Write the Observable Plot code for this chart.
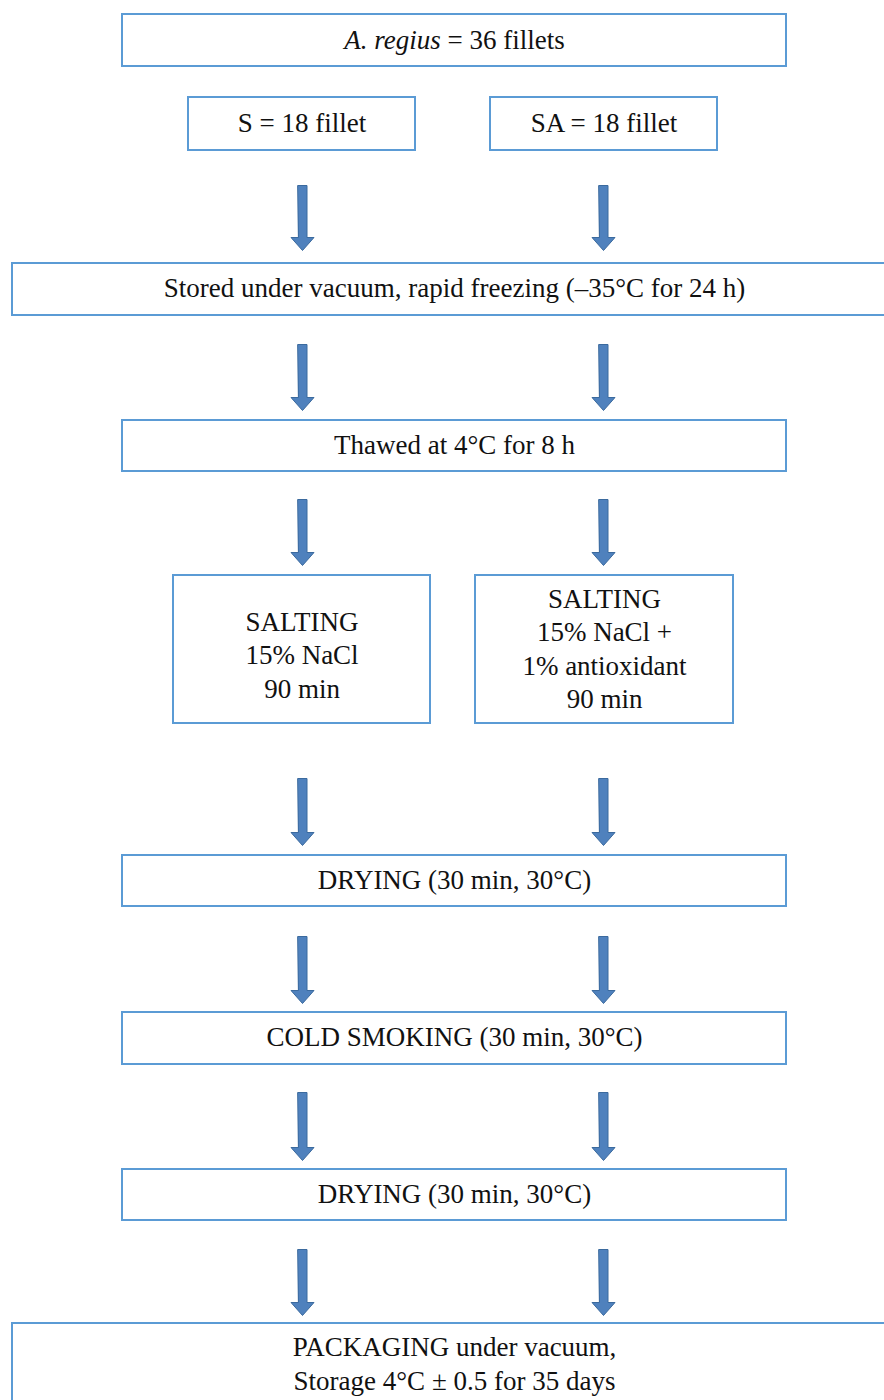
<!DOCTYPE html>
<html>
<head>
<meta charset="utf-8">
<script src="https://cdn.jsdelivr.net/npm/d3@7"></script>
<script src="https://cdn.jsdelivr.net/npm/@observablehq/plot@0.6"></script>
<style>
  html, body { margin: 0; padding: 0; background: #fff; }
  #chart svg { display: block; }
  #chart svg text { font-family: "Liberation Serif", "Times New Roman", serif !important; }
</style>
</head>
<body>
<div id="chart"></div>
<script>
// ---- data: flowchart steps (content only) ----
const stepLabels = [
  "A. regius = 36 fillets",
  "S = 18 fillet",
  "SA = 18 fillet",
  "Stored under vacuum, rapid freezing (\u201335\u00B0C for 24 h)",
  "Thawed at 4\u00B0C for 8 h",
  "SALTING\n15% NaCl\n90 min",
  "SALTING\n15% NaCl +\n1% antioxidant\n90 min",
  "DRYING (30 min, 30\u00B0C)",
  "COLD SMOKING (30 min, 30\u00B0C)",
  "DRYING (30 min, 30\u00B0C)",
  "PACKAGING under vacuum,\nStorage 4\u00B0C \u00B1 0.5 for 35 days"
];
// row index of each step (0-based stage in the flow)
const stepRows = [0, 1, 1, 2, 3, 4, 4, 5, 6, 7, 8];
// which lane each step occupies: "mid", "wide", "left", "right"
const stepLanes = ["mid", "left", "right", "wide", "mid", "left", "right", "mid", "mid", "mid", "wide"];
// arrows between stages: [fromRow, toRow]
const arrowGaps = [[1, 2], [2, 3], [3, 4], [4, 5], [5, 6], [6, 7], [7, 8]];
const arrowLanes = ["left", "right"];

// ---- layout (positions in pixels, kept out of the data) ----
const W = 884, H = 1400;
const rowTop =    [14, 97, 263, 420, 575, 855, 1012, 1169, 1323];
const rowBottom = [66, 150, 315, 471, 723, 906, 1064, 1220, 1420];
const laneX = {mid: [122, 786], wide: [12, 900]};
const smallLane = {1: {left: [188, 415], right: [490, 717]}, 4: {left: [173, 430], right: [475, 733]}};
const arrowX = {left: 302, right: 603};
const arrowYs = [[185, 250], [344, 410], [499, 565], [778, 845], [936, 1003], [1092, 1160], [1249, 1315]];
const textY = [38, 121, 121, 286, 443, 653, 647, 878, 1035, 1192, 1362];

const boxes = stepLabels.map((label, i) => {
  const r = stepRows[i], lane = stepLanes[i];
  const [x1, x2] = laneX[lane] || smallLane[r][lane];
  return {label, x1, x2, y1: rowTop[r], y2: rowBottom[r], cx: (x1 + x2) / 2, cy: textY[i]};
});
boxes[3].cx = 454; boxes[10].cx = 454;

// block-arrow polygons
const shaftHalf = 4.5, headHalf = 11.5, headLen = 13;
const arrowPts = [];
arrowGaps.forEach((g, gi) => {
  const [ya, yb] = arrowYs[gi];
  arrowLanes.forEach(lane => {
    const cx = arrowX[lane], id = gi + lane;
    const pts = [
      [cx - shaftHalf, ya], [cx + shaftHalf, ya], [cx + shaftHalf, yb - headLen],
      [cx + headHalf, yb - headLen], [cx, yb], [cx - headHalf, yb - headLen],
      [cx - shaftHalf, yb - headLen]
    ];
    pts.forEach(([x, y]) => arrowPts.push({id, x, y}));
  });
});

const plot = Plot.plot({
  width: W,
  height: H,
  margin: 0,
  x: {domain: [0, W], range: [0, W], axis: null},
  y: {domain: [0, H], range: [0, H], axis: null},
  marks: [
    Plot.rect(boxes, {x1: "x1", x2: "x2", y1: "y1", y2: "y2", fill: "white", stroke: "#5b9bd5", strokeWidth: 2}),
    Plot.line(arrowPts, {x: "x", y: "y", z: "id", curve: "linear-closed", fill: "#4f81bd", stroke: "#3b6a9e", strokeWidth: 1}),
    Plot.text(boxes, {x: "cx", y: "cy", text: "label", fontSize: 27, lineHeight: 1.24, fill: "#111",
      fontFamily: "Liberation Serif", textAnchor: "middle"})
  ]
});
document.getElementById("chart").appendChild(plot);

// italic species name in the first box
d3.select(plot).selectAll("text").filter(function() { return this.textContent === stepLabels[0]; })
  .each(function() {
    const t = d3.select(this);
    t.text(null);
    t.append("tspan").attr("font-style", "italic").text("A. regius");
    t.append("tspan").text(" = 36 fillets");
  });
</script>
</body>
</html>
